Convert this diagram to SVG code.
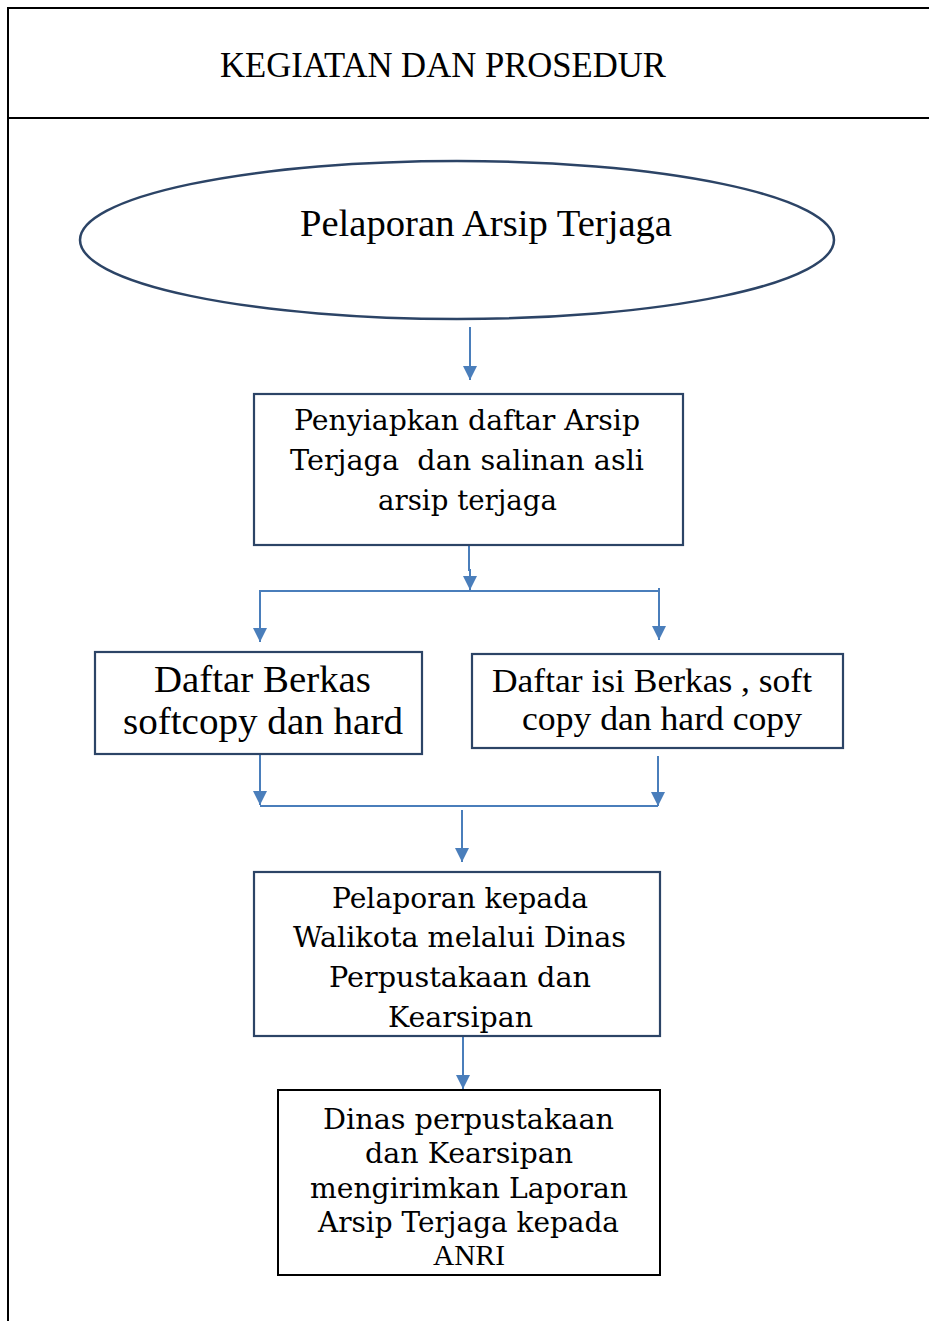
<svg xmlns="http://www.w3.org/2000/svg" width="929" height="1321" viewBox="0 0 929 1321">
  <style>
    .frame { stroke: #000; stroke-width: 2; fill: none; }
    .box { fill: #fff; stroke: #2c4466; stroke-width: 2.2; }
    .box-black { fill: #fff; stroke: #000; stroke-width: 2; }
    .conn { stroke: #4a7ebb; stroke-width: 2; fill: none; }
    .t { font-family: "DejaVu Serif", "Liberation Serif", serif; fill: #000; }
    .tt { font-family: "Liberation Serif", "DejaVu Serif", serif; fill: #000; }
  </style>
  <defs>
    <marker id="arrow" markerUnits="userSpaceOnUse" markerWidth="14" markerHeight="16" refX="14" refY="7" orient="auto">
      <path d="M0,0 L14,7 L0,14 Z" fill="#4a7ebb"/>
    </marker>
  </defs>

  <rect width="929" height="1321" fill="#fff"/>

  <!-- page frame and header -->
  <g id="frame">
    <path class="frame" d="M8,1321 V8 H929"/>
    <line class="frame" x1="8" y1="118" x2="929" y2="118"/>
    <text class="tt" x="220" y="77" font-size="36" textLength="446" lengthAdjust="spacingAndGlyphs">KEGIATAN DAN PROSEDUR</text>
  </g>

  <!-- start terminal -->
  <g id="start">
    <ellipse cx="457" cy="240" rx="377" ry="79" fill="#fff" stroke="#2c4466" stroke-width="2.5"/>
    <text class="tt" x="300" y="236" font-size="38" textLength="372" lengthAdjust="spacingAndGlyphs">Pelaporan Arsip Terjaga</text>
  </g>

  <!-- connectors -->
  <g id="connectors">
    <line class="conn" x1="470" y1="327" x2="470" y2="380" marker-end="url(#arrow)"/>
    <path class="conn" d="M469,545 V570 H470 V590" marker-end="url(#arrow)"/>
    <line class="conn" x1="260" y1="591" x2="660" y2="591"/>
    <line class="conn" x1="260" y1="590" x2="260" y2="642" marker-end="url(#arrow)"/>
    <line class="conn" x1="659" y1="588" x2="659" y2="640" marker-end="url(#arrow)"/>
    <line class="conn" x1="260" y1="754" x2="260" y2="805" marker-end="url(#arrow)"/>
    <line class="conn" x1="658" y1="756" x2="658" y2="806" marker-end="url(#arrow)"/>
    <line class="conn" x1="260" y1="806" x2="658" y2="806"/>
    <line class="conn" x1="462" y1="810" x2="462" y2="862" marker-end="url(#arrow)"/>
    <line class="conn" x1="463" y1="1036" x2="463" y2="1089" marker-end="url(#arrow)"/>
  </g>

  <!-- step 1 -->
  <g id="prepare">
    <rect class="box" x="254" y="394" width="429" height="151"/>
    <text class="t" x="294" y="430" font-size="27" textLength="346" lengthAdjust="spacingAndGlyphs">Penyiapkan daftar Arsip</text>
    <text class="t" x="290" y="470" font-size="27" textLength="354" lengthAdjust="spacingAndGlyphs" xml:space="preserve">Terjaga  dan salinan asli</text>
    <text class="t" x="378" y="510" font-size="27" textLength="179" lengthAdjust="spacingAndGlyphs">arsip terjaga</text>
  </g>

  <!-- step 2a -->
  <g id="file-list">
    <rect class="box" x="95" y="652" width="327" height="102"/>
    <text class="tt" x="154" y="692" font-size="37" textLength="217" lengthAdjust="spacingAndGlyphs">Daftar Berkas</text>
    <text class="tt" x="123" y="734" font-size="37" textLength="280" lengthAdjust="spacingAndGlyphs">softcopy dan hard</text>
  </g>

  <!-- step 2b -->
  <g id="content-list">
    <rect class="box" x="472" y="654" width="371" height="94"/>
    <text class="tt" x="492" y="692" font-size="33" textLength="320" lengthAdjust="spacingAndGlyphs">Daftar isi Berkas , soft</text>
    <text class="tt" x="522" y="730" font-size="33" textLength="280" lengthAdjust="spacingAndGlyphs">copy dan hard copy</text>
  </g>

  <!-- step 3 -->
  <g id="report-mayor">
    <rect class="box" x="254" y="872" width="406" height="164"/>
    <text class="t" x="332" y="908" font-size="27" textLength="256" lengthAdjust="spacingAndGlyphs">Pelaporan kepada</text>
    <text class="t" x="293" y="947" font-size="27" textLength="333" lengthAdjust="spacingAndGlyphs">Walikota melalui Dinas</text>
    <text class="t" x="329" y="987" font-size="27" textLength="262" lengthAdjust="spacingAndGlyphs">Perpustakaan dan</text>
    <text class="t" x="388" y="1027" font-size="27" textLength="145" lengthAdjust="spacingAndGlyphs">Kearsipan</text>
  </g>

  <!-- step 4 -->
  <g id="send-anri">
    <rect class="box-black" x="278" y="1090" width="382" height="185"/>
    <text class="t" x="323" y="1129" font-size="27" textLength="291" lengthAdjust="spacingAndGlyphs">Dinas perpustakaan</text>
    <text class="t" x="365" y="1163" font-size="27" textLength="208" lengthAdjust="spacingAndGlyphs">dan Kearsipan</text>
    <text class="t" x="310" y="1198" font-size="27" textLength="318" lengthAdjust="spacingAndGlyphs">mengirimkan Laporan</text>
    <text class="t" x="318" y="1232" font-size="27" textLength="301" lengthAdjust="spacingAndGlyphs">Arsip Terjaga kepada</text>
    <text class="tt" x="433" y="1265" font-size="29" textLength="72" lengthAdjust="spacingAndGlyphs">ANRI</text>
  </g>
</svg>
